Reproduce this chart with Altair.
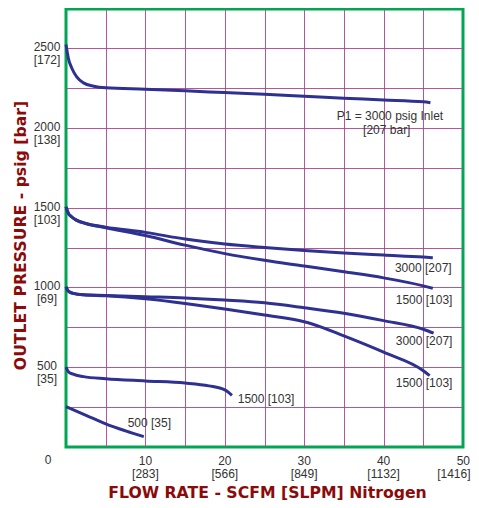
import altair as alt
import pandas as pd

# ---- data ----
# P1 = 3000 psig inlet, outlet set ~2500
a_x = [0, 0.3, 0.75, 1.35, 2.2, 3.5, 5, 10, 15, 20, 25, 30, 35, 40, 45, 45.9]
a_y = [2522, 2435, 2372, 2319, 2282, 2261, 2251, 2242, 2232, 2221, 2210, 2198, 2186, 2175, 2163, 2157]
# set 1500, inlet 3000
b_x = [0, 0.3, 0.7, 1.3, 2.5, 5, 10, 15, 20, 25, 30, 35, 40, 45, 46.2]
b_y = [1505, 1464, 1443, 1422, 1401, 1378, 1345, 1303, 1272, 1250, 1231, 1216, 1203, 1190, 1186]
# set 1500, inlet 1500
c_x = [0, 0.3, 0.7, 1.3, 2.5, 5, 10, 15, 20, 25, 30, 35, 40, 45, 46.2]
c_y = [1505, 1464, 1443, 1422, 1401, 1374, 1325, 1265, 1212, 1170, 1134, 1098, 1060, 1010, 995]
# set 1000, inlet 3000
d_x = [0, 0.3, 0.9, 2.2, 5, 10, 15, 20, 25, 30, 35, 40, 45, 46.3]
d_y = [1004, 977, 963, 954, 950, 942, 934, 921, 904, 873, 838, 792, 738, 713]
# set 1000, inlet 1500
e_x = [0, 0.3, 0.9, 2.2, 5, 10, 15, 20, 25, 30, 31, 35, 40, 45, 45.8]
e_y = [1004, 977, 963, 954, 948, 929, 900, 865, 827, 785, 771, 696, 594, 478, 447]
# set 500, inlet 1500
f_x = [0, 0.3, 0.9, 2.2, 5, 10, 15, 18, 20, 20.9]
f_y = [500, 472, 456, 441, 428, 414, 401, 383, 358, 324]
# set ~250, inlet 500
g_x = [0, 2.6, 5, 7.5, 9.8]
g_y = [253, 197, 145, 101, 65]

series = [("A", a_x, a_y), ("B", b_x, b_y), ("C", c_x, c_y), ("D", d_x, d_y),
          ("E", e_x, e_y), ("F", f_x, f_y), ("G", g_x, g_y)]

# curve labels
lab_text = ["P1 = 3000 psig Inlet", "[207 bar]", "3000 [207]", "1500 [103]",
            "3000 [207]", "1500 [103]", "1500 [103]", "500 [35]"]
lab_x = [40.8, 40.4, 45.0, 45.1, 45.1, 45.1, 25.2, 10.5]
lab_y = [2072, 1985, 1123, 921, 666, 403, 301, 149]

# tick labels
y_ticks = [500, 1000, 1500, 2000, 2500]
y_top = ["500", "1000", "1500", "2000", "2500"]
y_bot = ["[35]", "[69]", "[103]", "[138]", "[172]"]
x_ticks = [10, 20, 30, 40]
x_top = ["10", "20", "30", "40"]
x_bot = ["[283]", "[566]", "[849]", "[1132]"]
x_last = [50]
x_last_top = ["50"]
x_last_bot = ["[1416]"]

grid_x = [5, 10, 15, 20, 25, 30, 35, 40, 45]
grid_y = [250, 500, 750, 1000, 1250, 1500, 1750, 2000, 2250, 2500]

LINE = "#2E3192"
GRID = "#A8468F"
TXT = "#333333"
TITLE = "#8B0A0A"
FONT = "Liberation Sans"

rows = []
for name, xs_, ys_ in series:
    for i, (xv, yv) in enumerate(zip(xs_, ys_)):
        rows.append({"s": name, "i": i, "x": xv, "y": yv})
curves = pd.DataFrame(rows)

xs = alt.Scale(domain=[0, 50], nice=False, zero=False)
ys = alt.Scale(domain=[0, 2745], nice=False, zero=False)

x_axis = alt.Axis(values=grid_x, grid=True, gridColor=GRID, gridWidth=1, gridOpacity=0.9,
                  labels=False, ticks=False, domain=False,
                  title="FLOW RATE - SCFM [SLPM] Nitrogen",
                  titleFont="DejaVu Sans", titleFontSize=15.7, titleFontWeight="bold",
                  titleColor=TITLE, titleBaseline="alphabetic", titleAlign="center",
                  titleX=201, titleY=50)
y_axis = alt.Axis(values=grid_y, grid=True, gridColor=GRID, gridWidth=1, gridOpacity=0.9,
                  labels=False, ticks=False, domain=False,
                  title="OUTLET PRESSURE - psig [bar]",
                  titleFont="DejaVu Sans", titleFontSize=15.7, titleFontWeight="bold",
                  titleColor=TITLE, titleBaseline="alphabetic", titleAlign="center",
                  titleAngle=270, titleX=-41, titleY=226)

lines = alt.Chart(curves).mark_line(interpolate="monotone", color=LINE, strokeWidth=3).encode(
    x=alt.X("x:Q", scale=xs, axis=x_axis),
    y=alt.Y("y:Q", scale=ys, axis=y_axis),
    detail="s:N",
    order="i:Q",
)

labels_df = pd.DataFrame({"x": lab_x, "y": lab_y, "t": lab_text})
curve_labels = alt.Chart(labels_df).mark_text(
    font=FONT, fontSize=12, color=TXT, align="center", baseline="middle"
).encode(x=alt.X("x:Q", scale=xs), y=alt.Y("y:Q", scale=ys), text="t:N")

def txt(df, col, **kw):
    return alt.Chart(df).mark_text(font=FONT, fontSize=12, color=TXT,
                                   baseline="middle", **kw).encode(
        x=alt.X("x:Q", scale=xs), y=alt.Y("y:Q", scale=ys), text=f"{col}:N")

ydf = pd.DataFrame({"x": [0] * len(y_ticks), "y": y_ticks, "top": y_top, "bot": y_bot})
xdf = pd.DataFrame({"x": x_ticks, "y": [0] * len(x_ticks), "top": x_top, "bot": x_bot})
xldf = pd.DataFrame({"x": x_last, "y": [0], "top": x_last_top, "bot": x_last_bot})
zdf = pd.DataFrame({"x": [0], "y": [0], "t": ["0"]})

layers = [
    lines,
    curve_labels,
    txt(ydf, "top", align="center", dx=-19, dy=-1),
    txt(ydf, "bot", align="center", dx=-19, dy=12),
    txt(xdf, "top", align="center", dy=14),
    txt(xdf, "bot", align="center", dy=26.5),
    txt(xldf, "top", align="right", dx=7, dy=14),
    txt(xldf, "bot", align="right", dx=7.5, dy=26.5),
    txt(zdf, "t", align="center", dx=-18, dy=13),
]

chart = alt.layer(*layers).properties(
    width=397, height=438,
    autosize=alt.AutoSizeParams(type="none"),
    padding={"left": 58, "top": 1, "right": 8, "bottom": 53},
    background="white",
).configure_view(stroke="#00A651", strokeWidth=3)

chart.save("out.html", embed_options={"renderer": "svg", "actions": False})
